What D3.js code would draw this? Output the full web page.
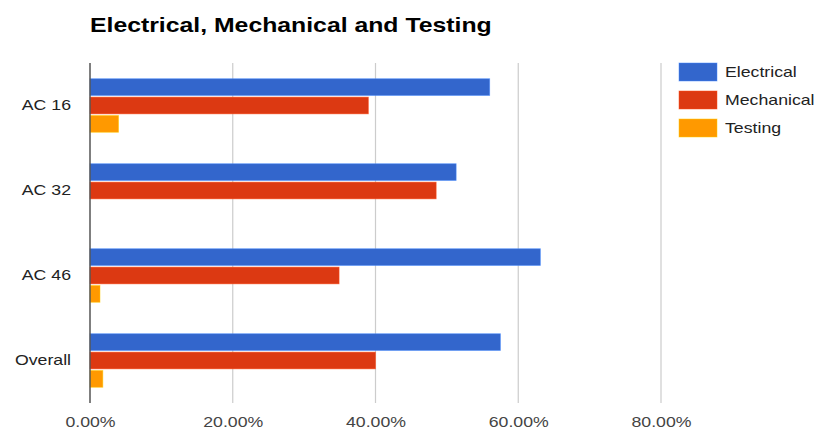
<!DOCTYPE html>
<html>
<head>
<meta charset="utf-8">
<script src="https://cdn.jsdelivr.net/npm/d3@7"></script>
<style>
  html, body { margin: 0; padding: 0; background: #fff; }
  svg { display: block; font-family: "Liberation Sans", Arial, sans-serif; }
</style>
</head>
<body>
<svg id="chart" width="819" height="430"></svg>
<script>
// Categories, series and their share values
const categories = ["AC 16", "AC 32", "AC 46", "Overall"];
const seriesNames = ["Electrical", "Mechanical", "Testing"];
const electrical = [0.560, 0.513, 0.631, 0.575];
const mechanical = [0.390, 0.485, 0.349, 0.400];
const testing = [0.040, 0.000, 0.014, 0.018];
const xTicks = [0, 0.2, 0.4, 0.6, 0.8];
const colors = ["#3366cc", "#dc3912", "#ff9900"];
const title = "Electrical, Mechanical and Testing";

const seriesValues = [electrical, mechanical, testing];
const STRETCH = 1.18; // wide rendering of the label face

// Widen a text selection horizontally by a fixed factor
function widen(sel) {
  sel.each(function () {
    const len = this.getComputedTextLength();
    if (len > 0) {
      d3.select(this).attr("textLength", len * STRETCH).attr("lengthAdjust", "spacingAndGlyphs");
    }
  });
}

const svg = d3.select("#chart");
const plot = { left: 90, right: 661, top: 63, bottom: 403 };

const x = d3.scaleLinear().domain([0, 0.8]).range([plot.left, plot.right]);
const y = d3.scaleBand().domain(categories).range([plot.top, plot.bottom])
  .paddingInner(0.37).paddingOuter(0.185);
const ySub = d3.scaleBand().domain(seriesNames).range([0, y.bandwidth()]).paddingInner(0.09);
const color = d3.scaleOrdinal().domain(seriesNames).range(colors);

// Title
svg.append("text")
  .attr("x", 90).attr("y", 32)
  .attr("font-size", 21).attr("font-weight", "bold").attr("fill", "#000")
  .text(title)
  .call(widen);

// Vertical gridlines
svg.append("g").selectAll("line").data(xTicks.slice(1)).join("line")
  .attr("x1", d => x(d)).attr("x2", d => x(d))
  .attr("y1", plot.top).attr("y2", plot.bottom)
  .attr("stroke", "#cccccc").attr("stroke-width", 1.2);

// Bars
const rows = categories.map((c, i) => ({ c, vals: seriesNames.map((s, j) => ({ s, v: seriesValues[j][i] })) }));
svg.append("g").selectAll("g").data(rows).join("g")
  .attr("transform", d => `translate(0,${y(d.c)})`)
  .selectAll("rect").data(d => d.vals.filter(e => e.v > 0)).join("rect")
  .attr("x", x(0))
  .attr("y", d => ySub(d.s))
  .attr("width", d => x(d.v) - x(0))
  .attr("height", ySub.bandwidth())
  .attr("fill", d => color(d.s))
  .attr("stroke", d => d3.color(color(d.s)).brighter(0.8))
  .attr("stroke-opacity", 0.6)
  .attr("stroke-width", 0.8);

// Baseline axis
svg.append("line")
  .attr("x1", x(0)).attr("x2", x(0))
  .attr("y1", plot.top).attr("y2", plot.bottom)
  .attr("stroke", "#555").attr("stroke-width", 1.5);

// Category labels
const yAxis = d3.axisLeft(y).tickSize(0).tickPadding(19);
const gy = svg.append("g").attr("transform", `translate(${plot.left},0)`).call(yAxis);
gy.select(".domain").remove();
gy.selectAll("text").attr("font-size", 15).attr("fill", "#222")
  .attr("font-family", "Liberation Sans, Arial, sans-serif").call(widen);

// Value axis labels
const xAxis = d3.axisBottom(x).tickValues(xTicks).tickSize(0).tickPadding(13)
  .tickFormat(d3.format(".2%"));
const gx = svg.append("g").attr("transform", `translate(0,${plot.bottom})`).call(xAxis);
gx.select(".domain").remove();
gx.selectAll("text").attr("font-size", 15).attr("fill", "#444")
  .attr("font-family", "Liberation Sans, Arial, sans-serif").call(widen);

// Legend
const legend = svg.append("g").attr("transform", "translate(679,63)");
const li = legend.selectAll("g").data(seriesNames).join("g")
  .attr("transform", (d, i) => `translate(0,${i * 28})`);
li.append("rect").attr("width", 38).attr("height", 18)
  .attr("fill", d => color(d))
  .attr("stroke", d => d3.color(color(d)).brighter(0.8))
  .attr("stroke-opacity", 0.6).attr("stroke-width", 0.8);
li.append("text").attr("x", 46).attr("y", 9).attr("dy", "0.35em")
  .attr("font-size", 15).attr("fill", "#222").text(d => d).call(widen);
</script>
</body>
</html>
